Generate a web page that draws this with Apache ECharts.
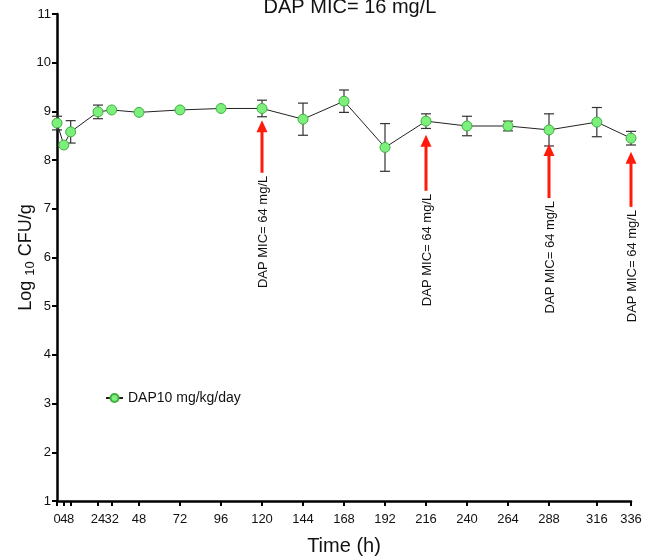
<!DOCTYPE html>
<html>
<head>
<meta charset="utf-8">
<script src="https://cdn.jsdelivr.net/npm/echarts@6/dist/echarts.min.js"></script>
<style>
  html, body { margin: 0; padding: 0; background: #fff; }
  #main { width: 656px; height: 556px; }
</style>
</head>
<body>
<div id="main"></div>
<script>
// 数据
var times = [0, 4, 8, 24, 32, 48, 72, 96, 120, 144, 168, 192, 216, 240, 264, 288, 316, 336]
var means = [8.76, 8.31, 8.58, 8.99, 9.03, 8.98, 9.03, 9.06, 9.06, 8.84, 9.21, 8.26, 8.80, 8.70, 8.70, 8.62, 8.78, 8.45]
var errs = [0.14, 0, 0.23, 0.14, 0, 0, 0, 0, 0.17, 0.33, 0.23, 0.49, 0.15, 0.20, 0.10, 0.33, 0.30, 0.14]
var xTicks = [0, 4, 8, 24, 32, 48, 72, 96, 120, 144, 168, 192, 216, 240, 264, 288, 316, 336]
// 箭头 (时间, 箭头顶端, 箭头底端)
var arrowTimes = [120, 216, 288, 336]
var arrowTops = [8.82, 8.52, 8.33, 8.17]
var arrowBottoms = [7.74, 7.37, 7.22, 7.04]
var arrowLabel = 'DAP MIC= 64 mg/L'

var chart = echarts.init(document.getElementById('main'))
var font = 'Liberation Sans, Arial, sans-serif'

var lineData = times.map(function (t, i) { return [t, means[i]] })
var errData = times.map(function (t, i) { return [t, means[i] - errs[i], means[i] + errs[i]] })
var arrowData = arrowTimes.map(function (t, i) { return [t, arrowTops[i], arrowBottoms[i]] })

// 0/4/8 标签太挤, 4 会被自动隐藏, 用第二个 x 轴单独画
var mainTicks = xTicks.filter(function (v) { return v !== 4 })
var extraTicks = xTicks.filter(function (v) { return v === 4 })
var labelStyle = { fontFamily: font, fontSize: 13, color: '#111', margin: 12 }

var option = {
  animation: false,
  title: {
    text: 'DAP MIC= 16 mg/L',
    left: 345,
    top: -8,
    textAlign: 'center',
    textStyle: { fontFamily: font, fontSize: 20, fontWeight: 'normal', color: '#111' }
  },
  legend: {
    left: 100,
    top: 386,
    itemWidth: 17,
    itemHeight: 10,
    data: ['DAP10 mg/kg/day'],
    textStyle: { fontFamily: font, fontSize: 14, color: '#111' }
  },
  grid: { left: 57, right: 25, top: 14, bottom: 55, outerBoundsMode: 'none' },
  xAxis: [
    {
      type: 'value',
      min: 0,
      max: 336,
      name: 'Time (h)',
      nameLocation: 'middle',
      nameGap: 35,
      nameTextStyle: { fontFamily: font, fontSize: 20, color: '#111' },
      splitLine: { show: false },
      axisLine: { lineStyle: { color: '#000', width: 2.5 } },
      axisTick: { customValues: xTicks, length: 5, lineStyle: { color: '#000', width: 2 } },
      axisLabel: Object.assign({ customValues: mainTicks, showMinLabel: true, showMaxLabel: true, hideOverlap: false }, labelStyle)
    },
    {
      type: 'value',
      min: 0,
      max: 336,
      position: 'bottom',
      splitLine: { show: false },
      axisLine: { show: false },
      axisTick: { show: false },
      axisLabel: Object.assign({ customValues: extraTicks, showMinLabel: false, showMaxLabel: false }, labelStyle)
    }
  ],
  yAxis: {
    type: 'value',
    min: 1,
    max: 11,
    interval: 1,
    name: '{a|Log }{b|10}{a| CFU/g}',
    nameLocation: 'middle',
    nameRotate: 90,
    nameGap: 20,
    nameMoveOverlap: false,
    nameTextStyle: {
      rich: {
        a: { fontFamily: font, fontSize: 18, color: '#111' },
        b: { fontFamily: font, fontSize: 13, color: '#111', padding: [8, 0, 0, 0] }
      }
    },
    splitLine: { show: false },
    axisLine: { show: true, lineStyle: { color: '#000', width: 2.5 } },
    axisTick: { show: true, length: 5, lineStyle: { color: '#000', width: 2 } },
    axisLabel: { fontFamily: font, fontSize: 13, color: '#111', margin: 6 }
  },
  series: [
    {
      // 误差线
      type: 'custom',
      name: 'err',
      z: 1,
      data: errData,
      renderItem: function (params, api) {
        var x = api.value(0)
        var lo = api.coord([x, api.value(1)])
        var hi = api.coord([x, api.value(2)])
        if (hi[1] === lo[1]) return null
        var w = 5
        var st = { stroke: '#333', lineWidth: 1.2 }
        return {
          type: 'group',
          children: [
            { type: 'line', shape: { x1: lo[0], y1: lo[1], x2: hi[0], y2: hi[1] }, style: st },
            { type: 'line', shape: { x1: lo[0] - w, y1: lo[1], x2: lo[0] + w, y2: lo[1] }, style: st },
            { type: 'line', shape: { x1: hi[0] - w, y1: hi[1], x2: hi[0] + w, y2: hi[1] }, style: st }
          ]
        }
      }
    },
    {
      name: 'DAP10 mg/kg/day',
      type: 'line',
      z: 3,
      data: lineData,
      symbol: 'circle',
      symbolSize: 10,
      lineStyle: { color: '#222', width: 1 },
      itemStyle: { color: '#7def7d', borderColor: '#3fae3f', borderWidth: 1 }
    },
    {
      // 红色箭头 + 文字
      type: 'custom',
      name: 'arrows',
      z: 2,
      data: arrowData,
      renderItem: function (params, api) {
        var x = api.value(0)
        var top = api.coord([x, api.value(1)])
        var bot = api.coord([x, api.value(2)])
        var hh = 12, hw = 5.5
        return {
          type: 'group',
          children: [
            { type: 'line', shape: { x1: bot[0], y1: bot[1], x2: top[0], y2: top[1] + hh - 1 },
              style: { stroke: '#ff1a0a', lineWidth: 3 } },
            { type: 'polygon', shape: { points: [[top[0], top[1]], [top[0] - hw, top[1] + hh], [top[0] + hw, top[1] + hh]] },
              style: { fill: '#ff1a0a' } },
            { type: 'text', x: top[0] + 1, y: bot[1] + 3, rotation: Math.PI / 2,
              style: { text: arrowLabel, fontFamily: font, fontSize: 13, fill: '#111',
                       align: 'right', verticalAlign: 'middle' } }
          ]
        }
      }
    }
  ]
}
chart.setOption(option)
</script>
</body>
</html>
